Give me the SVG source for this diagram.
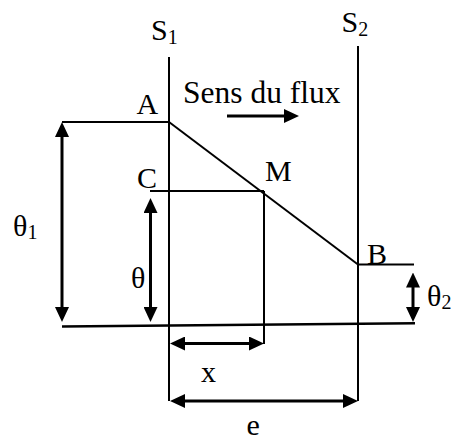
<svg xmlns="http://www.w3.org/2000/svg" width="451" height="443" viewBox="0 0 451 443">
<style>
.ln{stroke:#000;stroke-width:2;fill:none}
.ar{stroke:#000;stroke-width:3;fill:none}
.t{font-family:'Liberation Serif','Times New Roman',serif;font-size:30px;fill:#000}
.sub{font-size:20px}
</style>
<defs>
<marker id="ah" viewBox="0 0 15 14" refX="7" refY="7" markerWidth="15" markerHeight="14" markerUnits="userSpaceOnUse" orient="auto-start-reverse">
<path d="M0,0 L15,7 L0,14 z" fill="#000"/>
</marker>
</defs>
<rect width="451" height="443" fill="#fff"/>
<g id="connectors">
<line id="S1-line" class="ln" x1="169" y1="57" x2="169" y2="401"/>
<line id="S2-line" class="ln" x1="358" y1="46" x2="358" y2="401"/>
<line id="A-line" class="ln" x1="62" y1="122" x2="169" y2="122"/>
<line id="AB-line" class="ln" x1="169" y1="122" x2="358" y2="264.5"/>
<line id="C-line" class="ln" x1="150" y1="191" x2="264" y2="191"/>
<line id="M-line" class="ln" x1="264" y1="191" x2="264" y2="344"/>
<line id="B-line" class="ln" x1="358" y1="264.5" x2="414" y2="264.5"/>
<line id="base-line" class="ln" x1="62" y1="326.5" x2="415" y2="323.3" style="stroke-width:2.5"/>
<line id="theta1-arrow" class="ar" x1="62" y1="130" x2="62" y2="314" marker-start="url(#ah)" marker-end="url(#ah)"/>
<line id="theta-arrow" class="ar" x1="150.5" y1="206" x2="150.5" y2="314" marker-start="url(#ah)" marker-end="url(#ah)"/>
<line id="theta2-arrow" class="ar" x1="413" y1="280.5" x2="413" y2="314" marker-start="url(#ah)" marker-end="url(#ah)"/>
<line id="x-arrow" class="ar" x1="178" y1="343.5" x2="256" y2="343.5" marker-start="url(#ah)" marker-end="url(#ah)"/>
<line id="e-arrow" class="ar" x1="178" y1="401" x2="350" y2="401" marker-start="url(#ah)" marker-end="url(#ah)"/>
<line id="flux-arrow" class="ar" x1="227" y1="116" x2="291" y2="116" marker-end="url(#ah)"/>
</g>
<g id="S1"><text class="t" x="151" y="40">S<tspan class="sub" dy="4">1</tspan></text></g>
<g id="S2"><text class="t" x="341.5" y="32">S<tspan class="sub" dy="4">2</tspan></text></g>
<g id="flux"><text class="t" x="183" y="103" style="font-size:31.5px">Sens du flux</text></g>
<g id="A"><text class="t" x="136.5" y="114">A</text></g>
<g id="C"><text class="t" x="137" y="188">C</text></g>
<g id="M"><text class="t" x="265" y="181">M</text></g>
<g id="B"><text class="t" x="367" y="264">B</text></g>
<g id="theta1"><text class="t" x="13" y="236">θ<tspan class="sub" dy="3">1</tspan></text></g>
<g id="theta"><text class="t" x="131" y="288">θ</text></g>
<g id="theta2"><text class="t" x="427" y="306">θ<tspan class="sub" dy="3">2</tspan></text></g>
<g id="x"><text class="t" x="201" y="382">x</text></g>
<g id="e"><text class="t" x="246.5" y="435">e</text></g>
</svg>
